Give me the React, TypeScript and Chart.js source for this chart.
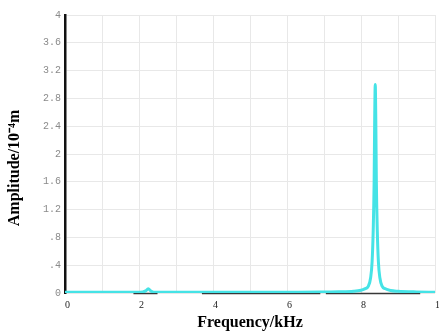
import React, { useEffect, useRef } from "react";
import { Chart, registerables } from "chart.js";

Chart.register(...registerables);

const freqKHz = [0, 0.5, 1, 1.5, 1.9, 2.1, 2.18, 2.25, 2.32, 2.4, 2.8, 3.5, 4.5, 5.5, 6.3, 6.9, 7.4, 7.8, 8.0, 8.1, 8.2, 8.26, 8.3, 8.33, 8.355, 8.37, 8.385, 8.4, 8.415, 8.44, 8.47, 8.51, 8.57, 8.66, 8.8, 9.0, 9.5, 10];
const amplitude = [0.01, 0.01, 0.01, 0.01, 0.012, 0.015, 0.03, 0.06, 0.03, 0.012, 0.01, 0.01, 0.01, 0.012, 0.012, 0.013, 0.017, 0.025, 0.04, 0.06, 0.1, 0.22, 0.45, 0.9, 1.6, 2.5, 3.0, 2.5, 1.6, 0.9, 0.45, 0.22, 0.1, 0.06, 0.035, 0.025, 0.015, 0.01];

const darkFreq = [1.85, 2.5, 2.6, 3.7, 6.9, 6.95, 7.05, 9.6];
const darkAmp: (number | null)[] = [-0.008, -0.008, null, -0.008, -0.008, null, -0.008, -0.008];

const yTicks = [0, 0.4, 0.8, 1.2, 1.6, 2, 2.4, 2.8, 3.2, 3.6, 4];
const xGrid = [0, 1, 2, 3, 4, 5, 6, 7, 8, 9, 10];
const xLabels = ["0", "", "2", "", "4", "", "6", "", "8", "", "10"];

const fmtY = (v: number) => {
  const s = Number(v.toFixed(1)).toString();
  return s.startsWith("0.") ? s.slice(1) : s;
};

export default function App() {
  const ref = useRef<HTMLCanvasElement>(null);
  useEffect(() => {
    if (!ref.current) return;
    const chart = new Chart(ref.current, {
      type: "line",
      data: {
        datasets: [
          {
            data: freqKHz.map((x, i) => ({ x, y: amplitude[i] })),
            borderColor: "#45e3e6",
            borderWidth: 3,
            pointRadius: 0,
            cubicInterpolationMode: "monotone",
            order: 1,
          },
          {
            data: darkFreq.map((x, i) => ({ x, y: darkAmp[i] })),
            borderColor: "rgba(25,25,25,0.85)",
            borderWidth: 1.5,
            pointRadius: 0,
            spanGaps: false,
            clip: 4,
            order: 2,
          },
        ],
      },
      options: {
        animation: false,
        responsive: false,
        maintainAspectRatio: false,
        layout: { padding: { top: 15, right: 25, left: 0, bottom: 0 } },
        plugins: { legend: { display: false }, tooltip: { enabled: false } },
        scales: {
          x: {
            type: "linear",
            min: 0,
            max: 10,
            afterBuildTicks: (s: any) => {
              s.ticks = xGrid.map((v) => ({ value: v }));
            },
            afterFit: (s: any) => {
              s.height = 41;
            },
            grid: { color: "#e8e8e8", lineWidth: 1, drawTicks: false },
            border: { display: false },
            ticks: {
              align: "start",
              padding: 6,
              color: "#222",
              autoSkip: false,
              maxRotation: 0,
              font: { family: "'Liberation Serif', serif", size: 10 },
              callback: (_v: any, i: number) => xLabels[i],
            },
            title: {
              display: true,
              text: "Frequency/kHz",
              color: "#000",
              font: { family: "'Liberation Serif', serif", size: 16, weight: "bold" },
              padding: { top: 2, bottom: 2 },
            },
          },
          y: {
            type: "linear",
            min: 0,
            max: 4,
            afterBuildTicks: (s: any) => {
              s.ticks = yTicks.map((v) => ({ value: v }));
            },
            afterFit: (s: any) => {
              s.width = 65;
            },
            grid: { color: "#e8e8e8", lineWidth: 1, drawTicks: false },
            border: { display: true, color: "#111", width: 2.5 },
            ticks: {
              padding: 4,
              color: "#8a8a8a",
              font: { family: "'Liberation Mono', monospace", size: 10 },
              callback: (v: any) => fmtY(Number(v)),
            },
            title: {
              display: true,
              text: "Amplitude/10⁻⁴m" + "\u00a0".repeat(7),
              color: "#000",
              font: { family: "'Liberation Serif', serif", size: 16, weight: "bold" },
              padding: { top: 5, bottom: 0 },
            },
          },
        },
      },
    });
    return () => chart.destroy();
  }, []);
  return (
    <div style={{ position: "fixed", left: 0, top: 0, width: 439, height: 334, overflow: "hidden", background: "#fff" }}>
      <canvas ref={ref} width={460} height={334} style={{ display: "block" }} />
    </div>
  );
}
